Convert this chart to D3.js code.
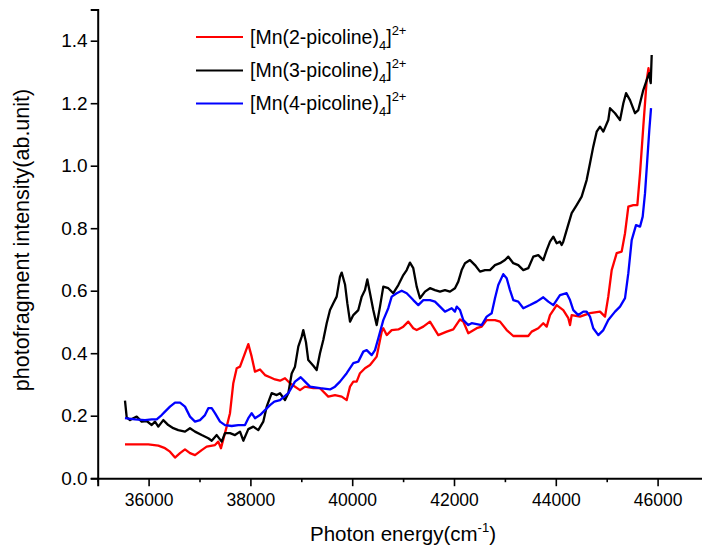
<!DOCTYPE html>
<html><head><meta charset="utf-8">
<script src="https://cdn.jsdelivr.net/npm/d3@7/dist/d3.min.js"></script>
<style>body{margin:0;background:#fff}svg{display:block}</style>
</head><body>
<svg id="chart" width="702" height="549"></svg>
<script>
// ---------- data ----------
const xTicks = [36000, 38000, 40000, 42000, 44000, 46000];
const xMinorTicks = [35000, 37000, 39000, 41000, 43000, 45000, 47000];
const yTicks = [0.0, 0.2, 0.4, 0.6, 0.8, 1.0, 1.2, 1.4];
const seriesNames = ["2-picoline", "3-picoline", "4-picoline"];
const seriesColors = ["#ff0000", "#000000", "#0000ff"];

// [photon energy (cm-1), intensity]
const pic2 = [
[35536,0.108],[35994,0.108],[36191,0.104],[36322,0.096],[36420,0.085],[36519,0.066],[36617,0.080],
[36715,0.092],[36813,0.080],[36912,0.074],[37043,0.090],[37141,0.101],[37304,0.106],[37369,0.117],
[37422,0.096],[37534,0.165],[37599,0.208],[37664,0.304],[37731,0.352],[37796,0.357],[37894,0.400],
[37959,0.429],[38025,0.389],[38090,0.341],[38189,0.348],[38287,0.330],[38385,0.323],[38483,0.316],
[38582,0.312],[38680,0.320],[38778,0.304],[38975,0.282],[39073,0.293],[39236,0.288],[39367,0.288],
[39530,0.261],[39662,0.266],[39794,0.261],[39892,0.250],[39957,0.293],[40022,0.309],[40088,0.309],
[40153,0.336],[40251,0.352],[40350,0.362],[40481,0.389],[40580,0.469],[40611,0.480],[40678,0.458],
[40776,0.474],[40906,0.476],[41004,0.485],[41102,0.501],[41200,0.480],[41267,0.474],[41397,0.485],
[41528,0.501],[41691,0.458],[41857,0.469],[41986,0.476],[42118,0.508],[42183,0.501],[42281,0.464],
[42446,0.480],[42544,0.485],[42642,0.506],[42805,0.506],[42904,0.501],[43035,0.474],[43165,0.455],
[43362,0.455],[43459,0.455],[43526,0.469],[43656,0.480],[43754,0.496],[43821,0.485],[43886,0.522],
[44017,0.554],[44147,0.538],[44246,0.512],[44279,0.490],[44312,0.522],[44475,0.517],[44672,0.528],
[44869,0.533],[44967,0.517],[45031,0.581],[45098,0.666],[45196,0.720],[45294,0.725],[45360,0.784],
[45425,0.869],[45523,0.874],[45602,0.874],[45655,0.976],[45719,1.125],[45786,1.274],[45821,1.312],
[45860,1.269]
];
const pic3 = [
[35536,0.248],[35570,0.195],[35635,0.186],[35699,0.192],[35766,0.197],[35864,0.181],[35963,0.183],
[36061,0.170],[36126,0.181],[36191,0.165],[36289,0.186],[36387,0.170],[36485,0.160],[36583,0.154],
[36715,0.149],[36813,0.160],[36912,0.149],[37043,0.138],[37173,0.128],[37240,0.120],[37338,0.138],
[37436,0.117],[37501,0.144],[37599,0.144],[37697,0.138],[37796,0.149],[37861,0.120],[37959,0.157],
[38057,0.165],[38155,0.154],[38253,0.181],[38320,0.229],[38418,0.272],[38517,0.266],[38582,0.272],
[38680,0.250],[38745,0.272],[38811,0.335],[38876,0.357],[38941,0.421],[39008,0.453],[39039,0.474],
[39092,0.435],[39137,0.378],[39236,0.360],[39302,0.346],[39367,0.400],[39432,0.442],[39499,0.496],
[39564,0.538],[39629,0.560],[39695,0.581],[39760,0.645],[39794,0.658],[39859,0.620],[39904,0.560],
[39957,0.501],[40022,0.522],[40120,0.538],[40187,0.581],[40251,0.602],[40297,0.636],[40350,0.592],
[40414,0.538],[40481,0.490],[40546,0.549],[40611,0.613],[40709,0.608],[40807,0.592],[40906,0.618],
[41004,0.650],[41071,0.666],[41135,0.690],[41200,0.672],[41267,0.613],[41332,0.576],[41430,0.597],
[41528,0.608],[41626,0.602],[41725,0.597],[41823,0.602],[41921,0.597],[42019,0.608],[42084,0.629],
[42151,0.666],[42216,0.688],[42314,0.698],[42412,0.682],[42511,0.661],[42609,0.666],[42707,0.666],
[42805,0.682],[42904,0.688],[43002,0.698],[43067,0.709],[43165,0.688],[43263,0.682],[43362,0.666],
[43459,0.672],[43558,0.709],[43656,0.714],[43754,0.698],[43821,0.730],[43886,0.757],[43951,0.773],
[44017,0.752],[44082,0.757],[44115,0.746],[44147,0.757],[44213,0.794],[44312,0.848],[44410,0.874],
[44508,0.901],[44606,0.954],[44672,1.008],[44736,1.061],[44803,1.109],[44869,1.125],[44934,1.109],
[45031,1.146],[45065,1.184],[45164,1.168],[45262,1.146],[45327,1.200],[45380,1.232],[45458,1.210],
[45556,1.168],[45621,1.178],[45719,1.242],[45786,1.274],[45837,1.296],[45865,1.264],[45884,1.354]
];
const pic4 = [
[35536,0.192],[35733,0.188],[35929,0.186],[36061,0.188],[36159,0.188],[36257,0.202],[36322,0.213],
[36420,0.229],[36519,0.242],[36617,0.242],[36715,0.229],[36813,0.197],[36912,0.181],[37010,0.186],
[37108,0.202],[37173,0.224],[37240,0.224],[37304,0.208],[37403,0.181],[37501,0.170],[37633,0.167],
[37762,0.170],[37894,0.170],[37959,0.192],[38025,0.208],[38090,0.192],[38189,0.202],[38287,0.218],
[38385,0.234],[38470,0.245],[38582,0.250],[38745,0.272],[38876,0.309],[38988,0.323],[39073,0.309],
[39171,0.293],[39367,0.288],[39564,0.284],[39662,0.293],[39760,0.309],[39892,0.336],[40022,0.368],
[40120,0.373],[40218,0.405],[40285,0.410],[40383,0.394],[40448,0.410],[40513,0.448],[40611,0.506],
[40709,0.544],[40776,0.581],[40874,0.592],[40972,0.600],[41071,0.592],[41200,0.570],[41299,0.554],
[41397,0.570],[41528,0.570],[41626,0.565],[41725,0.549],[41823,0.533],[41888,0.538],[41955,0.544],
[42019,0.533],[42053,0.549],[42118,0.538],[42183,0.506],[42281,0.490],[42347,0.496],[42446,0.493],
[42544,0.490],[42642,0.517],[42740,0.528],[42805,0.576],[42870,0.618],[42968,0.653],[43035,0.640],
[43100,0.602],[43165,0.570],[43263,0.565],[43362,0.544],[43493,0.554],[43625,0.565],[43754,0.579],
[43853,0.565],[43951,0.554],[44017,0.570],[44082,0.586],[44213,0.592],[44279,0.570],[44344,0.538],
[44442,0.522],[44541,0.533],[44606,0.533],[44672,0.517],[44736,0.480],[44835,0.458],[44934,0.474],
[45031,0.506],[45164,0.533],[45262,0.549],[45360,0.576],[45425,0.656],[45491,0.762],[45576,0.810],
[45655,0.805],[45707,0.837],[45753,0.912],[45797,1.018],[45837,1.114],[45871,1.184]
];
const allSeries = [pic2, pic3, pic4];

// ---------- layout ----------
const FONT = "'Liberation Sans', Arial, Helvetica, sans-serif";
const svg = d3.select("#chart");
const x = d3.scaleLinear().domain([35000, 47000]).range([97.7, 708.5]);
const y = d3.scaleLinear().domain([0, 1.5]).range([478.2, 9.45]);

// lines
const line = d3.line().x(d => x(d[0])).y(d => y(d[1]));
allSeries.forEach((s, i) => {
  svg.append("path").datum(s)
    .attr("fill", "none").attr("stroke", seriesColors[i])
    .attr("stroke-width", 2.3).attr("stroke-linejoin", "round")
    .attr("d", line);
});

// x axis
const xAxis = svg.append("g").attr("transform", `translate(0,${y(0)})`)
  .call(d3.axisBottom(x).tickValues(xTicks).tickSize(8).tickPadding(7).tickFormat(d3.format("d")));
svg.append("g").attr("transform", `translate(0,${y(0)})`)
  .call(d3.axisBottom(x).tickValues(xMinorTicks).tickSize(4).tickFormat(""))
  .call(g => g.select(".domain").remove());
// y axis
const yAxis = svg.append("g").attr("transform", `translate(${x(35000)},0)`)
  .call(d3.axisLeft(y).tickValues(yTicks).tickSize(7).tickPadding(3).tickFormat(d3.format(".1f")));

svg.selectAll(".domain").attr("stroke", "#000").attr("stroke-width", 2);
svg.selectAll(".tick line").attr("stroke", "#000").attr("stroke-width", 1.6);
xAxis.selectAll("text").attr("font-family", FONT).attr("font-size", 17.5).attr("fill", "#000");
yAxis.selectAll("text").attr("font-family", FONT).attr("font-size", 19).attr("fill", "#000");

// axis titles
const xt = svg.append("text").attr("x", 403).attr("y", 541)
  .attr("text-anchor", "middle").attr("font-family", FONT).attr("font-size", 20.5).attr("fill", "#000");
xt.append("tspan").text("Photon energy(cm");
xt.append("tspan").attr("font-size", 13).attr("dy", -9).text("-1");
xt.append("tspan").attr("dy", 9).text(")");

svg.append("text").attr("transform", "translate(28.5,240) rotate(-90)")
  .attr("text-anchor", "middle").attr("font-family", FONT).attr("font-size", 21.5).attr("fill", "#000")
  .text("photofragment intensity(ab.unit)");

// legend
const legY = [37, 70.5, 103.5];
seriesNames.forEach((n, i) => {
  svg.append("line").attr("x1", 196).attr("x2", 243).attr("y1", legY[i]).attr("y2", legY[i])
    .attr("stroke", seriesColors[i]).attr("stroke-width", 2);
  const t = svg.append("text").attr("x", 250).attr("y", legY[i] + 6.5)
    .attr("font-family", FONT).attr("font-size", 19.5).attr("fill", "#000");
  t.append("tspan").text("[Mn(" + n + ")");
  t.append("tspan").attr("font-size", 13).attr("dy", 6).text("4");
  t.append("tspan").attr("dy", -6).text("]");
  t.append("tspan").attr("font-size", 13).attr("dy", -9).text("2+");
});
</script>
</body></html>
